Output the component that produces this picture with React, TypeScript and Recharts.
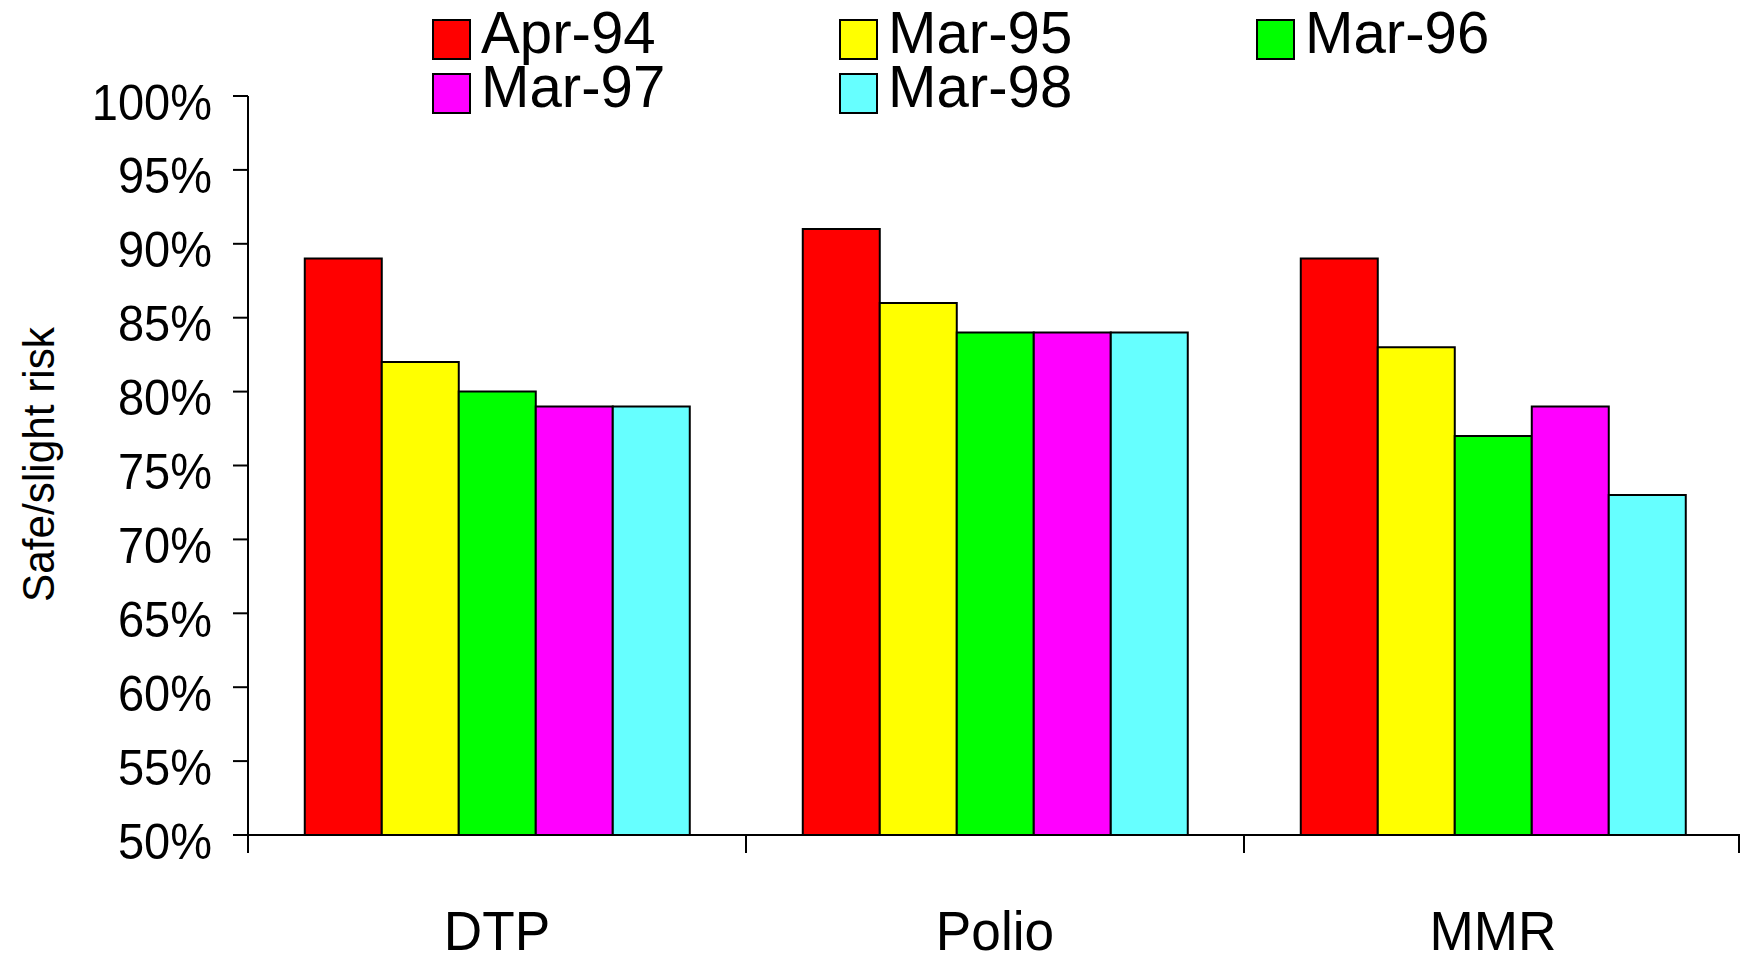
import { BarChart, Bar, XAxis, YAxis, Legend } from 'recharts'

const categories = ['DTP', 'Polio', 'MMR']
const seriesNames = ['Apr-94', 'Mar-95', 'Mar-96', 'Mar-97', 'Mar-98']
const apr94 = [89, 91, 89]
const mar95 = [82, 86, 83]
const mar96 = [80, 84, 77]
const mar97 = [79, 84, 79]
const mar98 = [79, 84, 73]
const yTicks = [50, 55, 60, 65, 70, 75, 80, 85, 90, 95, 100]

const seriesValues = [apr94, mar95, mar96, mar97, mar98]
const colors = ['#ff0000', '#ffff00', '#00ff00', '#ff00ff', '#66ffff']

const data = categories.map((name, i) => {
  const row: Record<string, string | number> = { name }
  seriesNames.forEach((s, j) => {
    row[s] = seriesValues[j][i]
  })
  return row
})

const FONT = '"Liberation Sans", Arial, sans-serif'

function YTick(props: any) {
  const { x, y, payload } = props
  return (
    <text
      transform={`translate(${x}, ${y + 6}) scale(0.94, 1)`}
      textAnchor="end"
      dominantBaseline="central"
      fontSize={50}
      fontFamily={FONT}
      fill="#000"
    >
      {payload.value}%
    </text>
  )
}

function XTick(props: any) {
  const { x, y, payload, index, visibleTicksCount, width } = props
  const band = (width ?? 1494) / (visibleTicksCount || 3)
  const left = x - band / 2
  const right = Math.min(x + band / 2, 1739)
  return (
    <g>
      <line x1={left} x2={left} y1={y} y2={y + 18} stroke="#000" strokeWidth={2} />
      {index === visibleTicksCount - 1 && (
        <line x1={right} x2={right} y1={y} y2={y + 18} stroke="#000" strokeWidth={2} />
      )}
      <text
        transform={`translate(${x}, ${y + 115}) scale(0.95, 1)`}
        textAnchor="middle"
        fontSize={56}
        fontFamily={FONT}
        fill="#000"
      >
        {payload.value}
      </text>
    </g>
  )
}

function YLabel(props: any) {
  const { viewBox } = props
  const cy = viewBox.y + viewBox.height / 2 - 1
  return (
    <text
      transform={`translate(38, ${cy}) rotate(-90) scale(0.94, 1)`}
      textAnchor="middle"
      dominantBaseline="central"
      fontSize={45}
      fontFamily={FONT}
      fill="#000"
    >
      Safe/slight risk
    </text>
  )
}

const legendCols = [433, 840, 1257]

function LegendContent(props: any) {
  const items = props.payload || []
  return (
    <svg width={1740} height={120} style={{ display: 'block' }}>
      {items.map((it: any, i: number) => {
        const col = i % 3
        const row = Math.floor(i / 3)
        const sx = legendCols[col]
        const sy = 20 + row * 54
        return (
          <g key={it.value}>
            <rect x={sx} y={sy} width={37} height={39} fill={it.color} stroke="#000" strokeWidth={2} />
            <text
              transform={`translate(${sx + 48}, ${sy + 33}) scale(0.97, 1)`}
              fontSize={60}
              fontFamily={FONT}
              fill="#000"
            >
              {it.value}
            </text>
          </g>
        )
      })}
    </svg>
  )
}

export default function App() {
  return (
    <div style={{ position: 'absolute', left: 0, top: 0, background: '#fff' }}>
      <BarChart
        width={1740}
        height={957}
        data={data}
        margin={{ top: 96, right: -2, bottom: 0, left: 0 }}
        barCategoryGap="11.4%"
        barGap={0}
      >
        <XAxis
          dataKey="name"
          height={122}
          tickLine={false}
          tickSize={0}
          tickMargin={0}
          axisLine={{ stroke: '#000', strokeWidth: 2 }}
          tick={<XTick />}
          interval={0}
        />
        <YAxis
          width={248}
          domain={[50, 100]}
          ticks={yTicks}
          allowDataOverflow
          tickSize={15}
          tickMargin={21}
          tickLine={{ stroke: '#000', strokeWidth: 2 }}
          axisLine={{ stroke: '#000', strokeWidth: 2 }}
          tick={<YTick />}
          interval={0}
          label={{ content: <YLabel /> }}
        />
        <Legend
          layout="vertical"
          align="center"
          verticalAlign="middle"
          wrapperStyle={{ left: 0, top: 0, width: 1740, height: 120 }}
          content={<LegendContent />}
        />
        {seriesNames.map((s, j) => (
          <Bar key={s} dataKey={s} name={s} fill={colors[j]} stroke="#000" strokeWidth={2} isAnimationActive={false} />
        ))}
      </BarChart>
    </div>
  )
}
